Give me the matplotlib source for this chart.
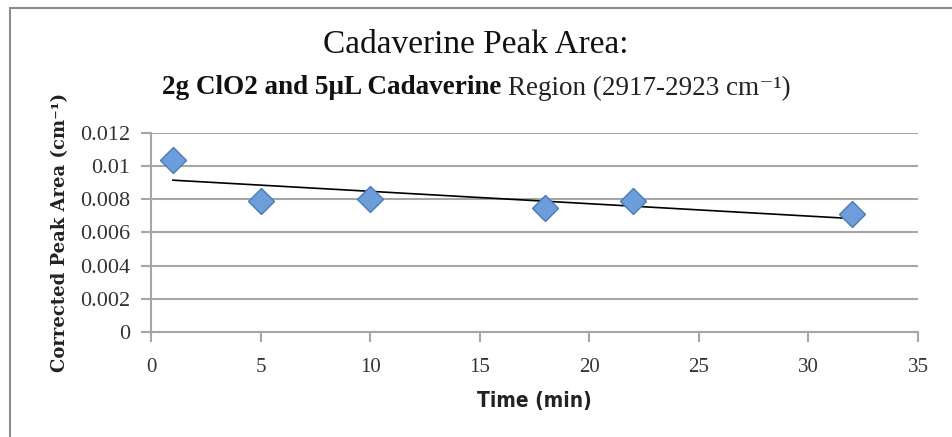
import numpy as np
import matplotlib
matplotlib.use('Agg')
import matplotlib.pyplot as plt
from matplotlib.patches import Rectangle

# data
time_min = [1, 5, 10, 18, 22, 32]
peak_area = [0.0104, 0.0079, 0.0080, 0.0075, 0.0079, 0.0071]
x_ticks = [0, 5, 10, 15, 20, 25, 30, 35]
y_ticks = [0, 0.002, 0.004, 0.006, 0.008, 0.01, 0.012]
y_tick_labels = ['0', '0.002', '0.004', '0.006', '0.008', '0.01', '0.012']

GRID = '#a6a6a6'
SERIF = ['Liberation Serif', 'DejaVu Serif']

fig = plt.figure(figsize=(9.52, 4.37), dpi=100)
ax = fig.add_axes([0.1586, 0.2403, 0.8057, 0.4554])

# chart-area frame (runs off right/bottom edge like the screenshot)
fig.patches.append(Rectangle((10 / 952, -0.05), 1.2, 1 - 8 / 437 + 0.05,
                             transform=fig.transFigure, fill=False,
                             edgecolor='#8c8c8c', linewidth=1.5))

# linear trendline
slope, icpt = np.polyfit(time_min, peak_area, 1)
xt = np.array([time_min[0], time_min[-1]])
ax.plot(xt, slope * xt + icpt, color='black', linewidth=1.2, zorder=3)

ax.plot(time_min, peak_area, linestyle='none', marker='D', markersize=13,
        markerfacecolor='#6d9edb', markeredgecolor='#4a7ab8',
        markeredgewidth=1.0, zorder=4)

ax.set_xlim(0, 35)
ax.set_ylim(0, 0.012)
ax.set_xticks(x_ticks)
ax.set_yticks(y_ticks)
ax.set_yticklabels(y_tick_labels)
ax.yaxis.grid(True, color=GRID, linewidth=1.5)
ax.set_axisbelow(True)

for side in ['top', 'right']:
    ax.spines[side].set_visible(False)
for side in ['left', 'bottom']:
    ax.spines[side].set_color(GRID)
    ax.spines[side].set_linewidth(1.5)
ax.tick_params(axis='both', direction='out', color=GRID, width=1.5,
               length=7)
ax.tick_params(axis='y', labelsize=16, pad=8)
ax.tick_params(axis='x', labelsize=15, pad=12)
for lab in ax.get_xticklabels() + ax.get_yticklabels():
    lab.set_family(SERIF)
    lab.set_color('#333333')

ax.set_xlabel('Time (min)', fontsize=15, fontweight='bold',
              family='DejaVu Sans', fontstretch='condensed',
              color='#222222', labelpad=10)
ax.set_ylabel('Corrected Peak Area (cm\u207b\u00b9)', fontsize=13,
              fontweight='bold', family=['DejaVu Serif'],
              color='#222222', labelpad=8)

fig.text(0.5, 1 - 45 / 437, 'Cadaverine Peak Area:', ha='center',
         va='center', fontsize=24, family=SERIF, color='#111111')

# subtitle: first part heavier, second part normal
sub_a = '2g ClO2 and 5\u03bcL Cadaverine '
sub_b = 'Region (2917-2923 cm\u207b\u00b9)'
sy = 1 - 88 / 437
t1 = fig.text(0, sy, sub_a, ha='left', va='center', fontsize=19.5,
              family=SERIF, fontweight='bold', color='#111111')
t2 = fig.text(0, sy, sub_b, ha='left', va='center', fontsize=19.5,
              family=SERIF, color='#222222')
r = fig.canvas.get_renderer()
w1 = t1.get_window_extent(r).width / fig.bbox.width
w2 = t2.get_window_extent(r).width / fig.bbox.width
x0 = 0.5 - (w1 + w2) / 2
t1.set_x(x0)
t2.set_x(x0 + w1)

fig.savefig('out.png', dpi=100)
